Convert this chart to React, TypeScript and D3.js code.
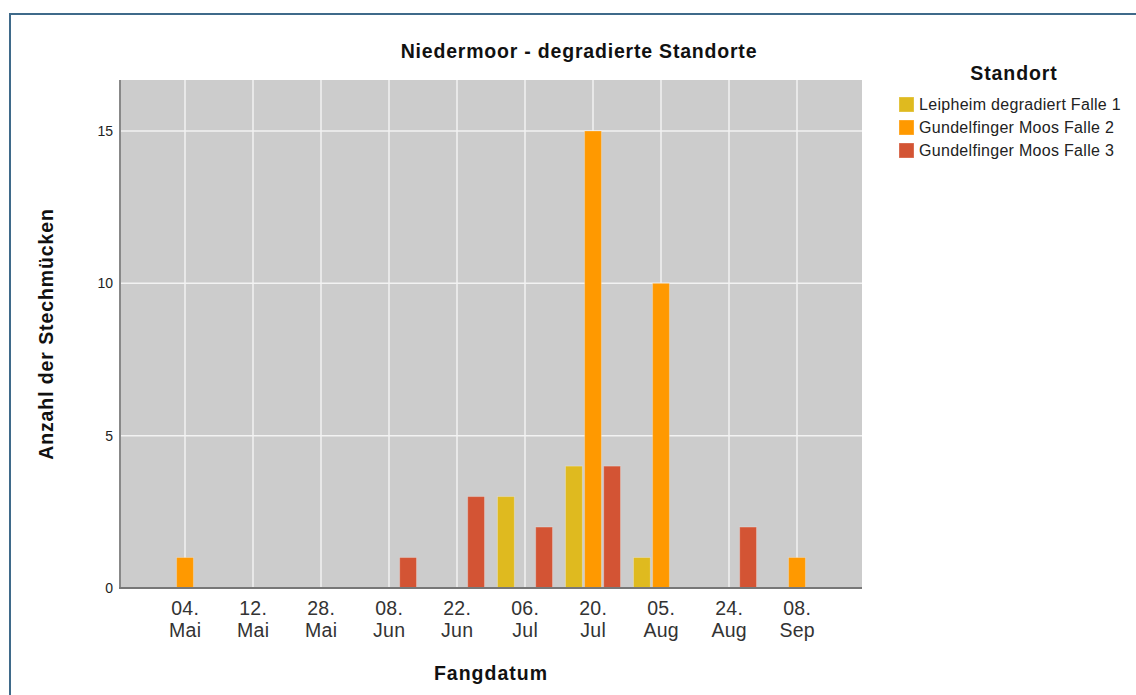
import React from "react";
import * as d3 from "d3";

const dates = ["04.|Mai", "12.|Mai", "28.|Mai", "08.|Jun", "22.|Jun", "06.|Jul", "20.|Jul", "05.|Aug", "24.|Aug", "08.|Sep"];
const seriesNames = ["Leipheim degradiert Falle 1", "Gundelfinger Moos Falle 2", "Gundelfinger Moos Falle 3"];
const seriesColors = ["#dfba1f", "#ff9900", "#d35434"];
const leipheim = [0, 0, 0, 0, 0, 3, 4, 1, 0, 0];
const gundelfinger2 = [1, 0, 0, 0, 0, 0, 15, 10, 0, 1];
const gundelfinger3 = [0, 0, 0, 1, 3, 2, 4, 0, 2, 0];
const yTicks = [0, 5, 10, 15];
const seriesValues = [leipheim, gundelfinger2, gundelfinger3];

const W = 1136, H = 695;
const L = 120, R = 862, T = 80, B = 588;
const FONT = "'Liberation Sans', Arial, sans-serif";

export default function App() {
  const x0 = d3.scaleBand<string>().domain(dates).range([L, R]).paddingInner(0).paddingOuter(31 / 68);
  const x1 = d3.scaleBand<string>().domain(seriesNames).range([0, 55]).paddingInner(0.12);
  const off = (x0.bandwidth() - 55) / 2;
  const y = d3.scaleLinear().domain([0, (B - T) / ((B - 131) / 15)]).range([B, T]);

  return (
    <svg width={W} height={H} style={{ position: "absolute", left: 0, top: 0, background: "#fff" }}>
      <rect x={10} y={14} width={1140} height={700} fill="#fff" stroke="#3f6a8a" strokeWidth={2} />
      <rect x={L} y={T} width={R - L} height={B - T} fill="#cccccc" />
      {dates.map((d) => {
        const cx = (x0(d) as number) + x0.bandwidth() / 2;
        return <line key={"vg" + d} x1={cx} x2={cx} y1={T} y2={B} stroke="#f2f2f2" strokeWidth={1.5} />;
      })}
      {yTicks.filter((t) => t > 0).map((t) => (
        <line key={"hg" + t} x1={L} x2={R} y1={y(t)} y2={y(t)} stroke="#f2f2f2" strokeWidth={1.5} />
      ))}
      {seriesNames.map((s, si) =>
        dates.map((d, di) => {
          const v = seriesValues[si][di];
          if (!v) return null;
          const bx = (x0(d) as number) + off + (x1(s) as number);
          return (
            <rect key={s + d} x={bx} y={y(v)} width={x1.bandwidth()} height={y(0) - y(v)}
              fill={seriesColors[si]} stroke="#ffffff" strokeOpacity={0.25} strokeWidth={1} />
          );
        })
      )}
      <line x1={L} x2={L} y1={T} y2={B + 1} stroke="#888" strokeWidth={2} />
      <line x1={L - 1} x2={R} y1={B} y2={B} stroke="#777" strokeWidth={2} />
      {yTicks.map((t) => (
        <text key={"yt" + t} x={113} y={y(t)} dy="0.35em" textAnchor="end" fontFamily={FONT} fontSize={14} fill="#222">{t}</text>
      ))}
      {dates.map((d) => {
        const cx = (x0(d) as number) + x0.bandwidth() / 2;
        const [a, b] = d.split("|");
        return (
          <g key={"xl" + d} fontFamily={FONT} fontSize={19.5} fill="#333" textAnchor="middle" letterSpacing={0.3}>
            <text x={cx + 0.2} y={615}>{a}</text>
            <text x={cx + 0.2} y={637}>{b}</text>
          </g>
        );
      })}
      <text x={579} y={58} textAnchor="middle" fontFamily={FONT} fontSize={19.5} fontWeight="bold" letterSpacing={0.8} fill="#111">Niedermoor - degradierte Standorte</text>
      <text x={491} y={680} textAnchor="middle" fontFamily={FONT} fontSize={19.5} fontWeight="bold" letterSpacing={1} fill="#111">Fangdatum</text>
      <text transform={`translate(53,334) rotate(-90)`} textAnchor="middle" fontFamily={FONT} fontSize={19.5} fontWeight="bold" letterSpacing={0.9} fill="#111">Anzahl der Stechmücken</text>
      <text x={1014} y={80} textAnchor="middle" fontFamily={FONT} fontSize={19.5} fontWeight="bold" letterSpacing={0.9} fill="#111">Standort</text>
      {seriesNames.map((s, i) => (
        <g key={"lg" + s}>
          <rect x={899} y={97 + i * 23} width={15} height={15} fill={seriesColors[i]} stroke="#fff" strokeOpacity={0.3} />
          <text x={919} y={104.5 + i * 23} dy="0.36em" fontFamily={FONT} fontSize={16} letterSpacing={0.3} fill="#222">{s}</text>
        </g>
      ))}
    </svg>
  );
}
